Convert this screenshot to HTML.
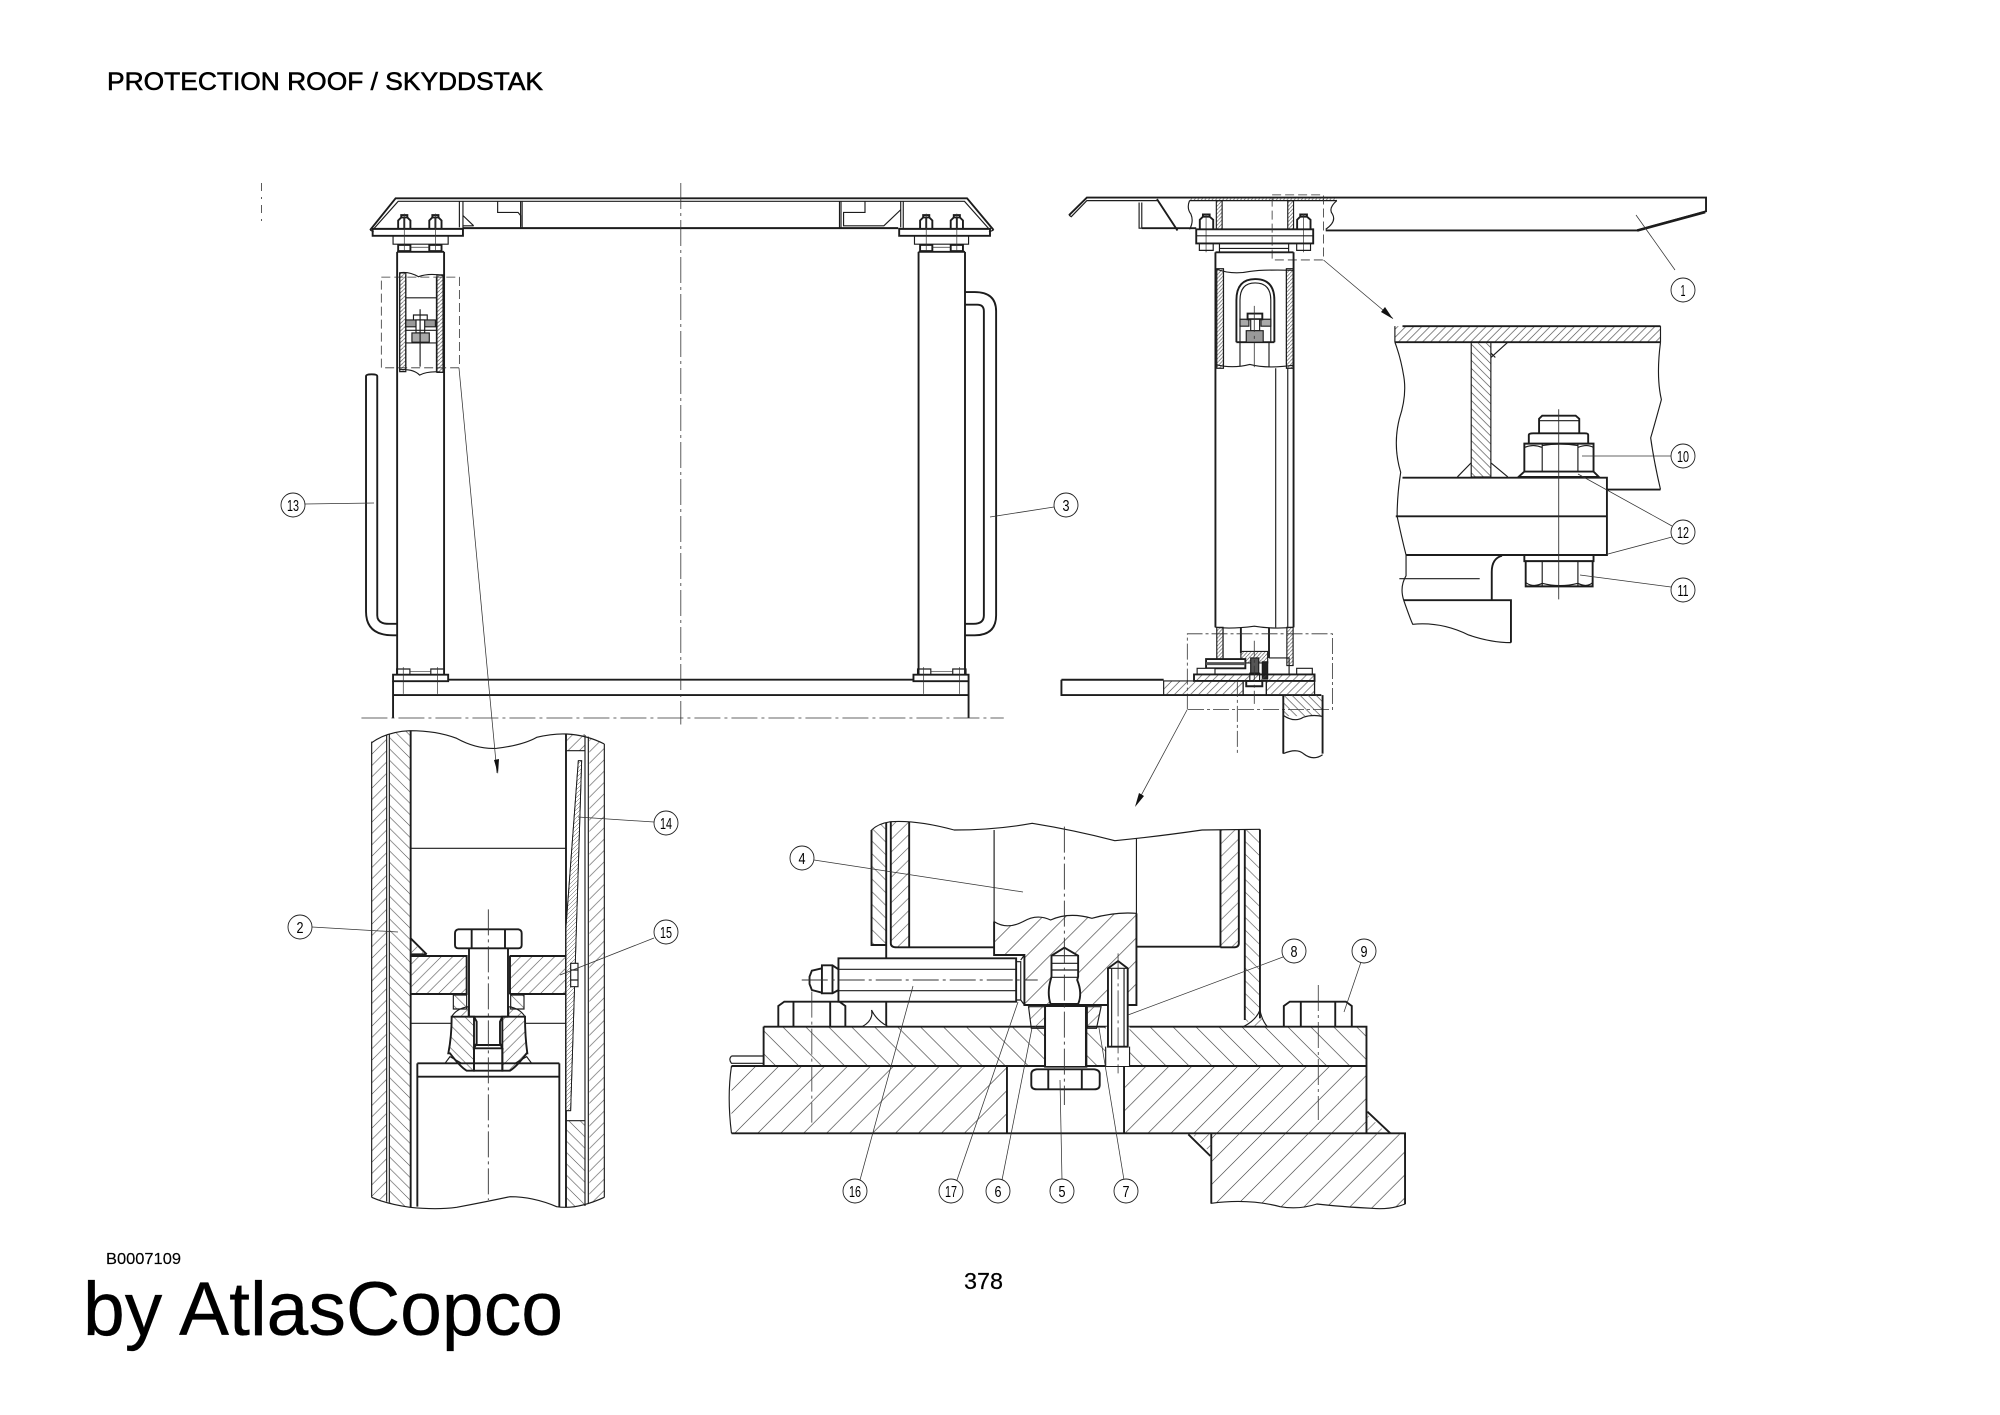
<!DOCTYPE html>
<html><head><meta charset="utf-8"><title>Protection roof</title>
<style>
html,body{margin:0;padding:0;background:#fff}
svg{display:block}
svg path,svg line,svg rect,svg polyline,svg polygon,svg circle{vector-effect:non-scaling-stroke}
pattern *{vector-effect:none !important}
.g{fill:none;stroke:#1c1c1c;stroke-width:1.15}
.h{stroke-width:1.9}
.t{stroke-width:.7;stroke:#333}
.w{fill:#fff}
.d{stroke-dasharray:26 4 3 4;stroke-width:.8;stroke:#333}
.bx{stroke-dasharray:9 4;stroke-width:.8;stroke:#333}
.dd{stroke-dasharray:16 3 3 3;stroke-width:.8;stroke:#333}
text{font-family:"Liberation Sans",sans-serif;fill:#000}
.n{font-size:16px;text-anchor:middle}
.c{fill:#fff;stroke:#222;stroke-width:.9}
.l{stroke:#333;stroke-width:.75;fill:none}
</style></head><body>
<svg xmlns="http://www.w3.org/2000/svg" width="2000" height="1415" viewBox="0 0 2000 1415">
<defs>
<pattern id="a3" patternUnits="userSpaceOnUse" width="34" height="34"><path d="M-5,5L5,-5M0,34L34,0M29,39L39,29" stroke="#444" stroke-width="1.8" fill="none"/></pattern>
<pattern id="b3" patternUnits="userSpaceOnUse" width="34" height="34"><path d="M-5,29L5,39M0,0L34,34M29,-5L39,5" stroke="#444" stroke-width="1.8" fill="none"/></pattern>
<pattern id="a3s" patternUnits="userSpaceOnUse" width="12" height="12"><path d="M0,12L12,0" stroke="#555" stroke-width="1.5" fill="none"/></pattern>
<pattern id="a4" patternUnits="userSpaceOnUse" width="50" height="69"><path d="M-3,4L3,-4M0,69L50,0M47,73L53,65" stroke="#444" stroke-width="1.6" fill="none"/></pattern>
<pattern id="b4" patternUnits="userSpaceOnUse" width="50" height="69"><path d="M-3,65L3,73M0,0L50,69M47,-4L53,4" stroke="#444" stroke-width="1.6" fill="none"/></pattern>
<pattern id="a4s" patternUnits="userSpaceOnUse" width="28" height="38"><path d="M0,38L28,0M-3,4L3,-4M25,42L31,34" stroke="#444" stroke-width="1.5" fill="none"/></pattern>
<pattern id="b4s" patternUnits="userSpaceOnUse" width="28" height="38"><path d="M0,0L28,38M-3,34L3,42M25,-4L31,4" stroke="#444" stroke-width="1.5" fill="none"/></pattern>
<pattern id="a2" patternUnits="userSpaceOnUse" width="18" height="21"><path d="M0,21L18,0M-3,4L3,-4M15,25L21,17" stroke="#444" stroke-width="1.5" fill="none"/></pattern>
<pattern id="b2" patternUnits="userSpaceOnUse" width="18" height="21"><path d="M0,0L18,21M-3,17L3,25M15,-4L21,4" stroke="#444" stroke-width="1.5" fill="none"/></pattern>
<pattern id="a1" patternUnits="userSpaceOnUse" width="8" height="10"><path d="M0,10L8,0" stroke="#555" stroke-width="1.6" fill="none"/></pattern>
</defs>
<rect width="2000" height="1415" fill="#fff"/>

<!-- FRONT VIEW -->
<g class="g" transform="translate(240,160) scale(.5102,.3827)">
<path class="h" d="M255,183L305,100H1425L1477,183"/>
<path d="M262,180L310,108H1420L1468,180M255,183L262,188M1477,183L1468,188"/>
<path class="h" d="M437,178H1290"/>
<path d="M437,108V178M430,108V176M550,108V178M553,108V178M1175,108V178M1178,108V178M1295,108V176M1300,108V178"/>
<path d="M437,145L458,172M437,172H458M505,108V137H545L550,145V172M1225,108V137H1183V172H1262L1295,130"/>
<rect class="h" x="260" y="180" width="177" height="18"/><rect class="h" x="1292" y="180" width="178" height="18"/>
<rect x="300" y="198" width="108" height="22"/><rect x="1322" y="198" width="106" height="22"/>
<g class="h">
<path d="M310,178V158L316,150H328L334,158V178M316,150V144H328V150M322,150V178"/>
<path d="M371,178V158L377,150H389L395,158V178M377,150V144H389V150M383,150V178"/>
<rect x="310" y="222" width="24" height="16"/><rect x="371" y="222" width="24" height="16"/>
<path d="M1333,178V158L1339,150H1351L1357,158V178M1339,150V144H1351V150M1345,150V178"/>
<path d="M1393,178V158L1399,150H1411L1417,158V178M1399,150V144H1411V150M1405,150V178"/>
<rect x="1333" y="222" width="24" height="16"/><rect x="1393" y="222" width="24" height="16"/>
</g>
<path class="t" d="M322,140V240M383,140V240M1345,140V240M1405,140V240M334,228H371M1357,228H1393"/>
<path class="h" d="M308,240V1345M400,240V1345M1330,240V1345M1421,240V1345M308,240H400M1330,240H1421"/>
<!-- section in left column -->
<rect x="313" y="295" width="12" height="258" fill="url(#a1)"/><rect x="386" y="300" width="12" height="255" fill="url(#a1)"/>
<path d="M312,295Q330,290 350,305Q370,295 398,302M312,548Q340,545 352,562Q370,550 398,555M325,360H385M325,300V548M385,305V555M313,295V550M398,300V555"/>
<rect x="325" y="418" width="21" height="18" fill="#999"/><rect x="360" y="418" width="23" height="18" fill="#999"/>
<rect x="340" y="405" width="27" height="13" class="w"/><rect x="345" y="418" width="17" height="34" class="w"/>
<rect x="337" y="452" width="34" height="24" fill="#aaa"/>
<path d="M325,478H385M325,445H385M353,390V540"/>
<!-- dash box -->
<rect class="bx" x="277" y="306" width="153" height="237"/>
<!-- handles -->
<path class="h" d="M269,565Q269,560 258,560Q247,560 247,565V1180Q247,1242 300,1242H308M269,565V1190Q269,1212 292,1212H308"/>
<path class="h" d="M1422,345H1440Q1482,345 1482,395V1190Q1482,1242 1440,1242H1422M1422,378H1445Q1458,378 1458,395V1190Q1458,1212 1438,1212H1422"/>
<!-- feet -->
<rect class="h" x="300" y="1345" width="108" height="17"/><rect class="h" x="1320" y="1345" width="108" height="17"/>
<rect x="307" y="1330" width="26" height="15"/><rect x="374" y="1330" width="26" height="15"/><rect x="1328" y="1330" width="26" height="15"/><rect x="1397" y="1330" width="26" height="15"/>
<path class="t" d="M333,1337H374M1354,1337H1397M320,1325V1395M387,1325V1395M1340,1325V1395M1410,1325V1395"/>
<path class="h" d="M408,1358H1320M300,1398H1428"/>
<path class="h" d="M300,1362V1458M1428,1362V1458"/>
<path class="d" d="M238,1458H1497"/>
<path class="d" d="M864,60V1475"/>
<path class="d" d="M42,60V165" style="stroke-dasharray:8 6 2 6"/>
</g>

<!-- SIDE VIEW + DETAIL -->
<g class="g" transform="translate(1040,170) scale(.4464,.3827)">
<path class="h" d="M65,118L105,72H1492V108L1338,158H640M308,158L262,76"/>
<path d="M65,118L70,122L105,80H262"/>
<path class="h" d="M1338,158L1490,110" style="stroke-width:2.6"/>
<path d="M222,85V152H308M228,85V152"/>
<path class="h" d="M228,152H350"/>
<rect x="335" y="73" width="330" height="8" fill="url(#a1)" stroke="none"/>
<path d="M335,80H665"/>
<path d="M335,80Q328,100 338,115Q345,135 335,155M665,80Q645,100 655,115Q665,135 640,155"/>
<rect x="395" y="80" width="13" height="75" fill="url(#a1)"/><rect x="555" y="80" width="13" height="75" fill="url(#a1)"/>
<g class="h"><path d="M358,155V130L365,122H380L388,130V155M365,122V116H380V122M576,155V130L583,122H598L606,130V155M583,122V116H598V122"/></g>
<path class="t" d="M372,115V215M590,115V215"/>
<rect class="h" x="350" y="155" width="262" height="37"/>
<path d="M350,172H612"/>
<rect x="357" y="192" width="31" height="18"/><rect x="575" y="192" width="31" height="18"/>
<path d="M402,192V215M557,192V215M402,205H557"/>
<path class="bx" d="M520,65H635V235H520Z"/>
<path d="M1,0" />
<path class="h" d="M393,215V1195M568,215V1195M393,215H568"/>
<rect x="396" y="258" width="15" height="260" fill="url(#a1)"/><rect x="552" y="258" width="15" height="260" fill="url(#a1)"/>
<path d="M393,258Q430,275 470,265Q500,260 568,262M393,508Q430,520 470,508Q510,520 568,510"/>
<path d="M528,518V1195M555,518V1195M411,258V508M552,258V508"/>
<path class="h" d="M440,450V340Q440,285 482,285Q525,285 525,340V450M440,450H525"/>
<path d="M448,450V340Q448,295 482,295Q517,295 517,340V450M448,450V512M513,450V515"/>
<rect x="448" y="390" width="20" height="18" fill="#aaa"/><rect x="495" y="390" width="22" height="18" fill="#aaa"/>
<rect x="465" y="375" width="33" height="15" class="w h"/><rect x="472" y="390" width="20" height="30" class="w"/>
<rect x="462" y="420" width="38" height="30" fill="#999"/>
<path class="d" d="M480,355V515" />
<!-- bottom of side view -->
<path d="M393,1195Q430,1200 480,1192Q520,1200 568,1195"/>
<rect x="396" y="1195" width="14" height="100" fill="url(#a1)"/><rect x="553" y="1195" width="14" height="100" fill="url(#a1)"/>
<path class="h" d="M450,1195V1262M513,1195V1275"/>
<path d="M410,1195V1295M513,1275H558V1318"/>
<path class="dd" d="M330,1410V1212H655V1410H330"/>
<rect x="450" y="1258" width="60" height="30" fill="url(#a1)"/>
<rect x="372" y="1278" width="88" height="24" class="w h"/>
<path class="h" d="M372,1290H460" style="stroke:#555;stroke-width:3"/>
<rect x="352" y="1302" width="40" height="16" class="w"/><rect x="575" y="1302" width="35" height="16" class="w"/>
<rect x="472" y="1275" width="18" height="40" fill="#555"/>
<rect x="470" y="1315" width="22" height="20" class="w"/>
<rect x="462" y="1335" width="36" height="14" class="w h"/>
<rect x="498" y="1285" width="12" height="45" fill="#222"/>
<rect class="h" x="345" y="1318" width="270" height="17" fill="url(#a2)"/>
<path class="h" d="M48,1332H277M48,1332V1372H630"/>
<rect x="277" y="1335" width="178" height="37" fill="url(#a2)"/>
<rect x="507" y="1335" width="108" height="37" fill="url(#a2)"/>
<path d="M615,1335V1372L630,1372M455,1335V1372M507,1335V1372"/>
<rect x="545" y="1372" width="88" height="55" fill="url(#b2)" stroke="none"/>
<path class="h" d="M545,1372V1525M633,1372V1525"/>
<path d="M545,1425Q570,1445 590,1430Q610,1422 633,1428M545,1525Q575,1510 590,1525Q612,1545 633,1528"/>
<path class="dd" d="M442,1335V1530M480,1230V1395"/>

<!-- enlarged detail top right -->
<rect x="795" y="408" width="595" height="42" fill="url(#a2)" stroke="none"/>
<path class="h" d="M812,408H1390M795,450H1390"/>
<path d="M795,408V450M1390,408V450"/>
<path d="M795,450Q808,490 815,540Q822,590 805,650Q790,720 808,790Q800,850 800,905Q810,960 820,1006V1060Q805,1090 815,1125Q830,1175 835,1187Q900,1180 960,1215Q1010,1235 1055,1235"/>
<path d="M1390,450Q1380,540 1392,600Q1378,660 1368,700Q1375,760 1390,835"/>
<rect x="966" y="450" width="44" height="352" fill="url(#b2)"/>
<path d="M1010,490L1048,450M1010,478L1020,490M935,802L966,765M1010,765L1048,802"/>
<path class="h" d="M812,804H1270V1006H820M797,905H1270M1270,835H1390"/>
<path class="h" d="M1085,715H1240V788H1085ZM1095,715V692Q1095,688 1105,688H1220Q1228,688 1228,692V715M1118,688V650L1125,642H1200L1208,650V688M1085,788H1240L1252,802H1072Z"/>
<path d="M1125,715V788M1205,715V788M1118,655H1208M1085,725Q1105,715 1125,725M1125,720Q1165,712 1205,720M1205,725Q1225,715 1240,725"/>
<path class="h" d="M1085,1008V1022H1240V1008M1088,1022V1088H1238V1022"/>
<path d="M1125,1022V1088M1205,1022V1088M1088,1078Q1105,1092 1125,1080M1125,1080Q1165,1092 1205,1080M1205,1080Q1225,1092 1238,1078"/>
<path class="t" d="M1162,625V1122" style="stroke-width:.9"/>
<path d="M805,1068H985"/>
<path class="h" d="M1035,1008Q1012,1015 1012,1050V1122M815,1124H1055V1235"/>
</g>

<!-- COLUMN SECTION (lower left) -->
<g class="g" transform="translate(270,720) scale(.33333)">
<path d="M305,68Q350,35 420,32Q500,32 560,55Q620,88 680,85Q760,75 800,52Q850,40 890,42Q950,45 1003,72V1432Q950,1455 890,1462Q860,1462 800,1440Q750,1428 700,1432Q600,1465 500,1468Q430,1468 305,1432Z" fill="#fff" stroke="none"/>
<path fill="url(#a3)" stroke="none" d="M305,68Q330,50 350,45V1445L305,1432Z"/>
<path fill="url(#b3)" stroke="none" d="M360,42Q390,32 420,32V1462L360,1450Z"/>
<path fill="url(#a3)" stroke="none" d="M958,55Q985,60 1003,72V1432Q985,1445 958,1450Z"/>
<path fill="url(#a3)" stroke="none" d="M890,42H945V92H890Z"/>
<path fill="url(#b3)" stroke="none" d="M890,1202H945V1458L890,1462Z"/>
<path d="M305,68Q350,35 420,32Q500,32 560,55Q620,88 680,85Q760,75 800,52Q850,40 890,42Q950,45 1003,72"/>
<path d="M305,1432Q350,1452 420,1462Q500,1470 560,1462Q650,1445 720,1430Q790,1430 860,1460Q920,1470 1003,1432"/>
<path class="h" d="M422,32V1462M888,42V1462"/>
<path d="M305,65V1432M350,45V1445M358,42V1448M945,45V1458M955,50V1452M1003,72V1432"/>
<path d="M422,385H888M888,92H945M888,1202H945"/>
<!-- plate w bolt -->
<rect x="422" y="708" width="168" height="114" fill="url(#a3)"/>
<rect x="720" y="708" width="168" height="114" fill="url(#a3)"/>
<path class="h" d="M422,708H590V822H422M720,708H888M720,822H888M590,708V822M720,708V822"/>
<path class="h" d="M422,655L470,703M422,703H470"/>
<path fill="url(#a3)" stroke="none" d="M422,660L465,703H422Z"/>
<path class="h" d="M565,628H745Q755,630 755,640V675Q755,685 745,685H565Q555,685 555,675V640Q555,630 565,628ZM605,628V685M705,628V685"/>
<path class="h" d="M597,685V890M714,685V890M597,890H714"/>
<rect x="550" y="825" width="40" height="42" fill="url(#b3)"/><rect x="722" y="825" width="40" height="42" fill="url(#b3)"/>
<path d="M422,910H545M765,910H888"/>
<path d="M545,890Q560,865 595,860V890ZM765,890Q750,865 716,860V890Z" fill="url(#a3)"/>
<path class="h" fill="url(#b3)" d="M545,890H612V1052H590Q570,1040 540,1000L535,1000Q545,950 545,890Z"/>
<path class="h" fill="url(#a3)" d="M697,890H765Q765,950 772,1000H770Q740,1040 720,1052H697Z"/>
<path class="h" d="M612,890L620,905V970L612,985H697L690,970V905L697,890M612,985V1052H697V985M612,975H697"/>
<path d="M525,1030L540,1010L575,1030ZM785,1030L770,1010L735,1030Z"/>
<path class="h" d="M442,1030H868M442,1030V1460M868,1030V1460M442,1070H868"/>
<path class="d" d="M655,568V1440" style="stroke-width:.9"/>
<path fill="#fff" stroke-width=".9" d="M925,122H935L902,1172H888V620Z"/>
<path fill="url(#a3s)" stroke-width=".9" d="M925,122H935L902,1172H888V620Z"/>
<rect x="902" y="730" width="22" height="70" class="w"/><path d="M902,750H924M902,780H924"/>
</g>

<!-- BOLTED JOINT SECTION (lower centre) -->
<g class="g" transform="translate(720,780) scale(.45914,.33333)">
<path fill="url(#b4s)" stroke="none" d="M330,150Q345,132 362,128V495H330Z"/>
<path fill="url(#a4s)" stroke="none" d="M372,125H412V500H372Z"/>
<path fill="url(#a4s)" stroke="none" d="M1090,150H1130V500H1090Z"/>
<path fill="url(#b4s)" stroke="none" d="M1143,148H1176V690L1143,735Z"/>
<path d="M330,150Q345,130 372,125Q430,120 510,150Q600,150 680,130Q770,150 860,182Q950,170 1050,150L1176,148"/>
<path class="h" d="M330,150V495H362V740M362,128V495M372,125V490Q372,502 385,502H597M412,125V500"/>
<path class="h" d="M1090,150V500H907M1130,150V490Q1130,502 1118,502H1090M1143,148V720M1176,148V715"/>
<path d="M597,150V525M907,175V675"/>
<!-- block -->
<path fill="url(#a4)" d="M597,425Q625,450 660,425Q690,400 720,420Q760,395 810,415Q860,395 907,400V675H663V525H597Z"/>
<path class="h" d="M597,425V525H663V675H907V400"/>
<!-- plates -->
<rect x="95" y="740" width="1313" height="118" fill="url(#b4)" stroke="none"/>
<rect x="25" y="858" width="600" height="202" fill="url(#a4)" stroke="none"/>
<rect x="880" y="858" width="528" height="202" fill="url(#a4)" stroke="none"/>
<path class="h" d="M95,740H708M797,740H1408V858H95V740M25,858H1408M1408,858V1060M25,1060H1492V1075M625,858V1060M880,858V1060"/>
<path d="M25,828H95M25,828Q18,838 25,850H95"/>
<path d="M25,858Q15,950 25,1060"/>
<!-- welds -->
<path d="M310,740Q335,720 330,690Q340,720 366,740Z" fill="#fff"/>
<path d="M1140,740Q1168,720 1176,690Q1180,720 1192,740Z" fill="url(#a4s)"/>
<!-- nuts -->
<path class="h" d="M127,740V678L140,665H260L273,678V740M160,667V740M240,667V740"/>
<path class="h" d="M1228,740V678L1241,665H1363L1376,678V740M1265,667V740M1340,667V740"/>
<!-- fitting -->
<rect class="h w" x="258" y="535" width="387" height="130"/>
<path d="M258,568H645M258,632H645"/>
<path class="h" d="M258,568L245,556H222V640H245L258,630M222,565L200,572L195,590V612L200,630L222,638M245,556V640"/>
<path d="M645,545H655V660H645M655,540L663,525M655,660L663,675"/>
<path class="d" d="M178,600H692" style="stroke-width:.9"/>
<!-- screw -->
<path class="h w" d="M722,527L750,503L780,527V590L778,600Q790,640 780,672H720Q712,640 720,600L722,590Z"/>
<path d="M722,550H780M722,570H780M720,592H780M722,527H780"/>
<rect class="h w" x="708" y="678" width="90" height="182"/>
<path d="M672,680H708V745H678ZM800,680H830L820,745H800Z" fill="url(#a4s)"/>
<path class="h" d="M690,868H815Q827,870 827,882V915Q827,928 815,928H690Q678,928 678,915V882Q678,870 690,868ZM715,868V928M788,868V928"/>
<path class="w" d="M708,740H797V858H708Z" stroke="none"/>
<path class="h" d="M708,680V860M797,680V860"/>
<path class="d" d="M750,140V975" style="stroke-width:.9"/>
<!-- pin -->
<rect x="840" y="740" width="52" height="118" class="w" stroke="none"/>
<path class="h w" d="M845,565L867,543L888,565V800H845Z"/>
<path d="M853,565V800M880,565V800M845,565H888M840,800V858M892,800V858"/>
<path class="d" d="M867,520V880"/>
<!-- lower block -->
<path fill="url(#a4)" d="M1070,1060H1492V1272Q1460,1290 1420,1285Q1350,1280 1300,1272Q1260,1290 1220,1280Q1150,1255 1070,1270Z"/>
<path class="h" d="M1070,1060V1270M1492,1060V1272"/>
<path class="h" d="M1020,1063L1068,1128M1410,995L1460,1060"/>
<path fill="url(#a4s)" stroke="none" d="M1028,1063H1070V1120Z"/>
<path fill="url(#a4s)" stroke="none" d="M1410,1003L1452,1060H1410Z"/>
<path class="d" d="M200,635V1028M1303,615V1020"/>
</g>

<!-- leaders & arrows -->
<g class="l">
<path d="M459,368L497,773"/>
<path d="M1323.5,260L1393,318.5"/>
<path d="M1187,710L1136,805"/>
<path d="M1636,215L1675,270"/>
<path d="M1582,456H1671"/>
<path d="M1578,474L1672,526M1608,554L1672,537"/>
<path d="M1580,575L1671,587"/>
<path d="M990,517L1054,507"/>
<path d="M374,503L305,504"/>
<path d="M312,927L398,932"/>
<path d="M578,817L654,822"/>
<path d="M560,975L654,938"/>
<path d="M814,860L1023,892"/>
<path d="M1283,957L1128,1015"/>
<path d="M1361,962L1344,1012"/>
<path d="M913,986L860,1180"/>
<path d="M1018,1002L957,1180"/>
<path d="M1032,1028L1002,1180"/>
<path d="M1060,1080L1062,1180"/>
<path d="M1099,1028L1124,1180"/>
</g>
<g fill="#111" stroke="none">
<polygon points="498,774 494,760 499,759"/>
<polygon points="1393,319 1381,312 1385,307"/>
<polygon points="1135,807 1139,793 1144,796"/>
</g>

<!-- balloons -->
<g>
<circle class="c" cx="1683" cy="290" r="12"/><text class="n" x="1683" y="296" textLength="5" lengthAdjust="spacingAndGlyphs">1</text>
<circle class="c" cx="300" cy="927" r="12"/><text class="n" x="300" y="933" textLength="7" lengthAdjust="spacingAndGlyphs">2</text>
<circle class="c" cx="1066" cy="505" r="12"/><text class="n" x="1066" y="511" textLength="7" lengthAdjust="spacingAndGlyphs">3</text>
<circle class="c" cx="802" cy="858" r="12"/><text class="n" x="802" y="864" textLength="7" lengthAdjust="spacingAndGlyphs">4</text>
<circle class="c" cx="1062" cy="1191" r="12"/><text class="n" x="1062" y="1197" textLength="7" lengthAdjust="spacingAndGlyphs">5</text>
<circle class="c" cx="998" cy="1191" r="12"/><text class="n" x="998" y="1197" textLength="7" lengthAdjust="spacingAndGlyphs">6</text>
<circle class="c" cx="1126" cy="1191" r="12"/><text class="n" x="1126" y="1197" textLength="7" lengthAdjust="spacingAndGlyphs">7</text>
<circle class="c" cx="1294" cy="951" r="12"/><text class="n" x="1294" y="957" textLength="7" lengthAdjust="spacingAndGlyphs">8</text>
<circle class="c" cx="1364" cy="951" r="12"/><text class="n" x="1364" y="957" textLength="7" lengthAdjust="spacingAndGlyphs">9</text>
<circle class="c" cx="1683" cy="456" r="12"/><text class="n" x="1683" y="462" textLength="12" lengthAdjust="spacingAndGlyphs">10</text>
<circle class="c" cx="1683" cy="590" r="12"/><text class="n" x="1683" y="596" textLength="11" lengthAdjust="spacingAndGlyphs">11</text>
<circle class="c" cx="1683" cy="532" r="12"/><text class="n" x="1683" y="538" textLength="12" lengthAdjust="spacingAndGlyphs">12</text>
<circle class="c" cx="293" cy="505" r="12"/><text class="n" x="293" y="511" textLength="12" lengthAdjust="spacingAndGlyphs">13</text>
<circle class="c" cx="666" cy="823" r="12"/><text class="n" x="666" y="829" textLength="12" lengthAdjust="spacingAndGlyphs">14</text>
<circle class="c" cx="666" cy="932" r="12"/><text class="n" x="666" y="938" textLength="12" lengthAdjust="spacingAndGlyphs">15</text>
<circle class="c" cx="855" cy="1191" r="12"/><text class="n" x="855" y="1197" textLength="12" lengthAdjust="spacingAndGlyphs">16</text>
<circle class="c" cx="951" cy="1191" r="12"/><text class="n" x="951" y="1197" textLength="12" lengthAdjust="spacingAndGlyphs">17</text>
</g>

<!-- page text -->
<text x="107" y="90" font-size="25" textLength="436" lengthAdjust="spacingAndGlyphs" stroke="#000" stroke-width=".55">PROTECTION ROOF / SKYDDSTAK</text>
<text x="106" y="1264" font-size="16" textLength="75" lengthAdjust="spacingAndGlyphs" stroke="#000" stroke-width=".15">B0007109</text>
<text x="964" y="1289" font-size="23" textLength="39" lengthAdjust="spacingAndGlyphs" stroke="#000" stroke-width=".2">378</text>
<text x="83" y="1335" font-size="76" textLength="480" lengthAdjust="spacingAndGlyphs" stroke="#000" stroke-width=".3">by AtlasCopco</text>
</svg>
</body></html>
